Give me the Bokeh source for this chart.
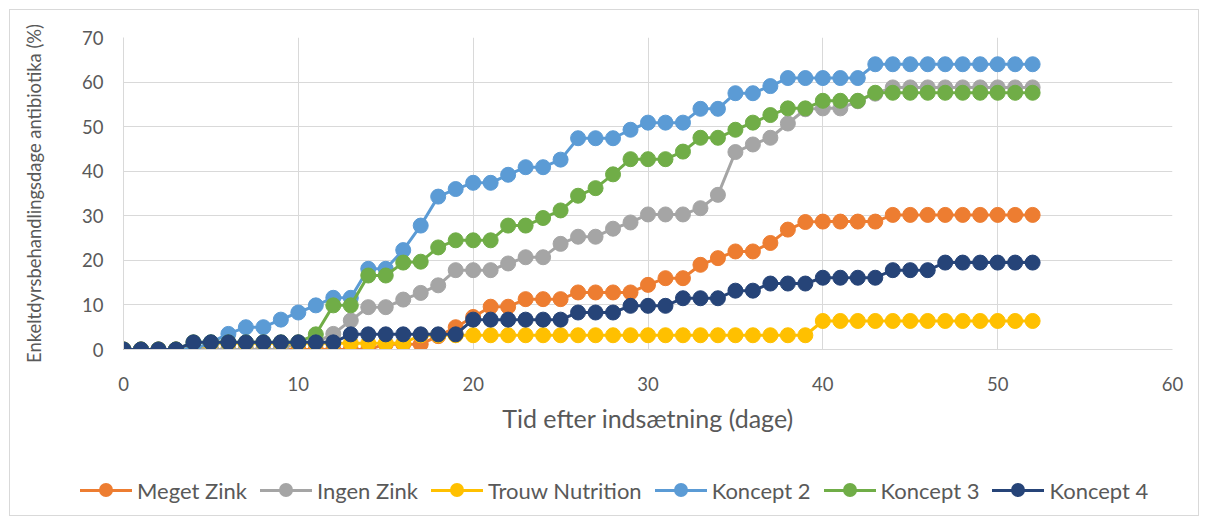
from bokeh.plotting import figure
from bokeh.layouts import column
from bokeh.models import Range1d, SingleIntervalTicker, ColumnDataSource, Div
from bokeh.embed import file_html
from bokeh.resources import INLINE

days = list(range(53))

meget_zink = [0]*15 + [1.2, 1.2, 1.2, 3.0, 5.0, 7.3, 9.6, 9.6, 11.3, 11.3, 11.3,
              12.8, 12.8, 12.8, 12.8, 14.5, 16.0, 16.0, 19.0, 20.5, 22.0, 22.0,
              23.9, 26.9, 28.6, 28.7, 28.7, 28.7, 28.7] + [30.2]*9
ingen_zink = [0]*10 + [1.6, 1.6, 3.5, 6.5, 9.5, 9.5, 11.2, 12.7, 14.4, 17.8, 17.8, 17.8,
              19.3, 20.7, 20.7, 23.7, 25.3, 25.3, 27.1, 28.5, 30.3, 30.3, 30.3, 31.7,
              34.7, 44.3, 46.0, 47.5, 50.7, 53.9, 54.1, 54.1, 55.7, 57.4] + [58.8]*9
trouw = [0]*5 + [1.4]*12 + [3.2]*23 + [6.4]*13
koncept2 = [0]*5 + [1.6, 3.5, 5.0, 5.0, 6.7, 8.3, 9.9, 11.6, 11.6, 18.1, 18.1, 22.3, 27.8,
                    34.3, 36.0, 37.4, 37.4, 39.2, 40.9, 40.9, 42.6, 47.4, 47.4, 47.4, 49.3,
                    50.9, 50.9, 50.9, 54.0, 54.0, 57.5, 57.5, 59.1] + [60.9]*5 + [64.0]*10
koncept3 = [0]*4 + [1.6]*7 + [3.4, 9.9, 9.9, 16.6, 16.6, 19.5, 19.7, 22.9, 24.5, 24.5, 24.5,
                              27.8, 27.8, 29.5, 31.2, 34.5, 36.2, 39.3, 42.7, 42.7, 42.7,
                              44.4, 47.5, 47.5, 49.3, 50.9, 52.6, 54.1, 54.1,
                              55.8, 55.8, 55.8] + [57.6]*10
koncept4 = ([0]*4 + [1.6]*9 + [3.4]*7 + [6.7]*6 + [8.3]*3 + [9.8]*3 + [11.5]*3 +
            [13.2]*2 + [14.8]*3 + [16.1]*4 + [17.8]*3 + [19.5]*6)

names = ["Meget Zink", "Ingen Zink", "Trouw Nutrition", "Koncept 2", "Koncept 3", "Koncept 4"]
series = [meget_zink, ingen_zink, trouw, koncept2, koncept3, koncept4]
colors = ["#ED7D31", "#A5A5A5", "#FFC000", "#5B9BD5", "#70AD47", "#264478"]

FONT = "Lato"
TXT = "#595959"

p = figure(width=1188, height=450, output_backend="svg", toolbar_location=None,
           x_range=Range1d(0, 60), y_range=Range1d(0, 70),
           min_border_left=113, min_border_right=26, min_border_top=27, min_border_bottom=111)
p.outline_line_color = None
p.background_fill_color = "white"
p.border_fill_color = "white"

p.xaxis.ticker = SingleIntervalTicker(interval=10, num_minor_ticks=0)
p.yaxis.ticker = SingleIntervalTicker(interval=10, num_minor_ticks=0)
for ax in (p.xaxis[0], p.yaxis[0]):
    ax.major_tick_out = 0
    ax.major_tick_in = 0
    ax.minor_tick_out = 0
    ax.minor_tick_in = 0
    ax.axis_line_color = "#D9D9D9"
    ax.major_label_text_font = FONT
    ax.major_label_text_font_size = "18.5px"
    ax.major_label_text_color = TXT
    ax.axis_label_text_font = FONT
    ax.axis_label_text_color = TXT
    ax.axis_label_text_font_style = "normal"

p.xaxis.axis_label = "Tid efter indsætning (dage)"
p.xaxis.axis_label_text_font_size = "25px"
p.xaxis.major_label_standoff = 27
p.xaxis.axis_label_standoff = 9
p.yaxis.axis_label = "Enkeltdyrsbehandlingsdage antibiotika (%)"
p.yaxis.axis_label_text_font_size = "18.4px"
p.yaxis.major_label_standoff = 20
p.yaxis.axis_label_standoff = 34

p.xgrid.grid_line_color = "#D9D9D9"
p.ygrid.grid_line_color = "#D9D9D9"

for vals, col in zip(series, colors):
    src = ColumnDataSource(dict(x=days, y=vals))
    p.line("x", "y", source=src, line_color=col, line_width=3)
    p.scatter("x", "y", source=src, size=15, fill_color=col, line_color=col)

# legend strip below the chart
item_html = []
for name, col in zip(names, colors):
    item_html.append(
        '<div style="display:flex;align-items:center;height:35px;white-space:nowrap;">'
        '<span style="position:relative;display:inline-block;width:52px;height:35px;">'
        f'<span style="position:absolute;left:0;top:16px;width:52px;height:3px;background:{col};"></span>'
        f'<span style="position:absolute;left:19px;top:10.5px;width:14px;height:14px;'
        f'border-radius:50%;background:{col};"></span></span>'
        f'<span style="margin-left:5px;">{name}</span></div>')
legend_html = (
    '<div style="position:relative;width:1188px;height:55px;">'
    f'<div style="position:absolute;left:70px;top:12.5px;display:flex;gap:13px;'
    f'font-family:{FONT};font-size:22px;color:{TXT};line-height:35px;">'
    + "".join(item_html) + '</div></div>')
legend_div = Div(text=legend_html, width=1188, height=55,
                 styles={"margin": "0", "padding": "0"})

layout = column(p, legend_div, spacing=0,
                styles={"border": "1px solid #D9D9D9", "margin-left": "9px", "margin-top": "9px"})

open("out.html", "w").write(file_html(layout, INLINE))
